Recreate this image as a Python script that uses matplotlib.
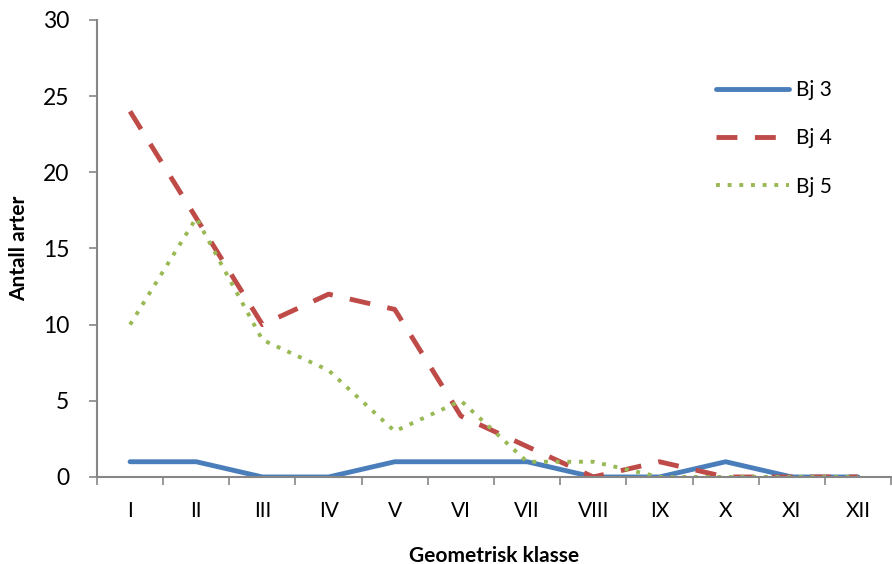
import matplotlib.pyplot as plt
import numpy as np

# categories and values
klasser = ['I', 'II', 'III', 'IV', 'V', 'VI', 'VII', 'VIII', 'IX', 'X', 'XI', 'XII']
bj3 = [1, 1, 0, 0, 1, 1, 1, 0, 0, 1, 0, 0]
bj4 = [24, 17, 10, 12, 11, 4, 2, 0, 1, 0, 0, 0]
bj5 = [10, 17, 9, 7, 3, 5, 1, 1, 0, 0, 0, 0]

plt.rcParams['font.family'] = ['Lato', 'DejaVu Sans']

fig = plt.figure(figsize=(8.92, 5.64), dpi=100)
ax = fig.add_axes([0.1087, 0.1543, 0.8903, 0.8103])

x = np.arange(len(klasser))
ax.plot(x, bj3, color='#4A7EBB', lw=3.5, solid_capstyle='round', label='Bj 3')
ax.plot(x, bj4, color='#BE4B48', lw=3.5, linestyle=(0, (4.3, 3.6)), label='Bj 4')
ax.plot(x, bj5, color='#98B954', lw=2.8, linestyle=(0, (1, 2)), label='Bj 5')

ax.set_xlim(-0.5, len(klasser) - 0.5)
ax.set_ylim(0, 30)
ax.set_yticks(range(0, 31, 5))
ax.set_xticks(x)
ax.set_xticklabels(klasser)
ax.set_xticks(np.arange(-0.5, len(klasser)), minor=True)

for s in ['top', 'right']:
    ax.spines[s].set_visible(False)
for s in ['left', 'bottom']:
    ax.spines[s].set_color('#868686')
    ax.spines[s].set_linewidth(1.5)

ax.tick_params(axis='y', direction='out', length=6, color='#868686', width=1.2,
               labelsize=16.5, pad=14)
ax.tick_params(axis='x', which='major', length=0, labelsize=15, pad=17)
ax.tick_params(axis='x', which='minor', direction='out', length=6,
               color='#868686', width=1.2)

ax.set_ylabel('Antall arter', fontsize=15, fontweight='bold', labelpad=10)
ax.set_xlabel('Geometrisk klasse', fontsize=15, fontweight='bold', labelpad=18)

ax.legend(loc='upper left', bbox_to_anchor=(0.78, 0.868), frameon=False,
          fontsize=15, handlelength=3.5, labelspacing=1.35, handletextpad=0.3,
          borderpad=0, borderaxespad=0)

fig.savefig('out.png', dpi=100)
